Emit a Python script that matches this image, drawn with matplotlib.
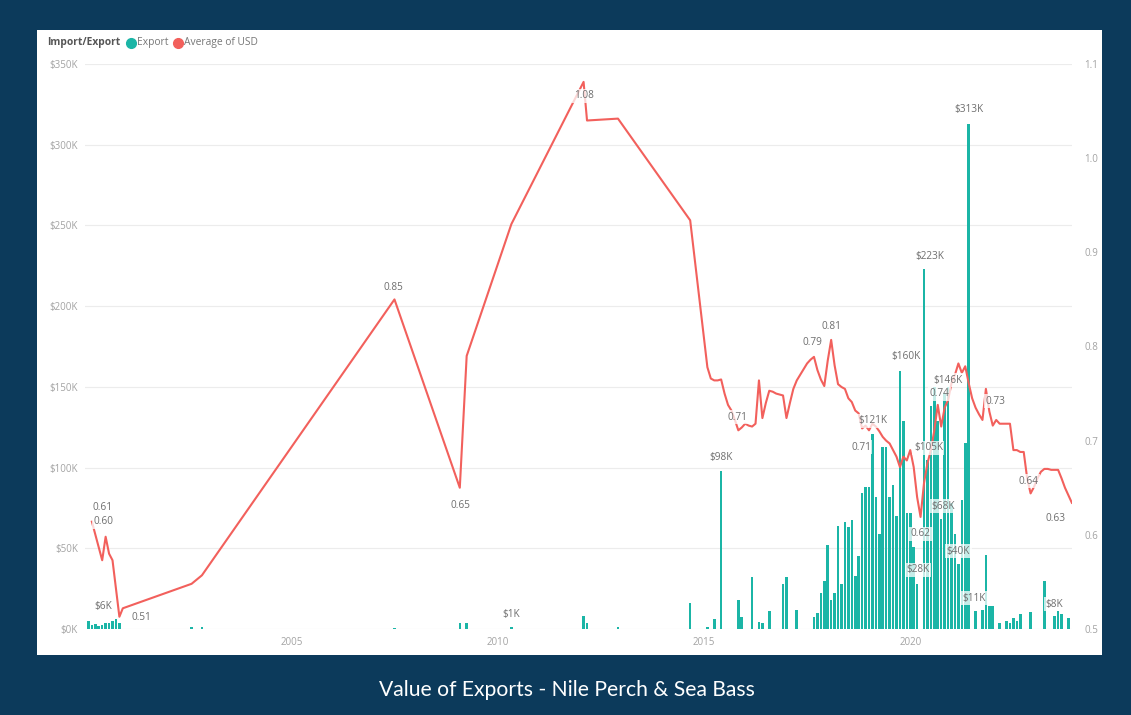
import matplotlib
matplotlib.use("Agg")
import matplotlib.pyplot as plt
from matplotlib.patches import Rectangle
from matplotlib.lines import Line2D

plt.rcParams['font.family'] = ['Open Sans', 'DejaVu Sans']

# monthly export value (USD)
export_months = [
    "2000-02", "2000-03", "2000-04", "2000-05", "2000-06", "2000-07", "2000-08", "2000-09", "2000-10", "2000-11",
    "2002-08", "2002-11", "2007-07", "2009-02", "2009-04", "2010-05", "2012-02", "2012-03", "2012-12",
    "2014-09", "2015-02", "2015-04", "2015-06", "2015-11", "2015-12",
    "2016-03", "2016-05", "2016-06", "2016-08", "2016-12", "2017-01", "2017-04",
    "2017-09", "2017-10", "2017-11", "2017-12",
    "2018-01", "2018-02", "2018-03", "2018-04", "2018-05", "2018-06",
    "2018-07", "2018-08", "2018-09", "2018-10", "2018-11", "2018-12",
    "2019-01", "2019-02", "2019-03", "2019-04", "2019-05", "2019-06",
    "2019-07", "2019-08", "2019-09", "2019-10", "2019-11", "2019-12",
    "2020-01", "2020-02", "2020-03", "2020-05", "2020-06",
    "2020-07", "2020-08", "2020-09", "2020-10", "2020-11", "2020-12",
    "2021-01", "2021-02", "2021-03", "2021-04", "2021-05", "2021-06",
    "2021-08", "2021-10", "2021-11", "2021-12",
    "2022-01", "2022-03", "2022-05", "2022-06", "2022-07", "2022-08", "2022-09", "2022-12",
    "2023-04", "2023-07", "2023-08", "2023-09", "2023-11",
]
export_values = [
    5000, 2500, 3000, 2000, 2500, 3500, 4000, 5000, 6000, 4000,
    1200, 1200, 800, 4000, 4000, 1000, 8000, 4000, 1500,
    16000, 1400, 6000, 98000, 18000, 7600,
    32000, 4500, 3500, 11000, 28000, 32000, 12000,
    7600, 10000, 22000, 30000,
    52000, 18000, 22000, 64000, 28000, 66000,
    63000, 67500, 33000, 45000, 84000, 88000,
    88000, 121000, 82000, 59000, 113000, 113000,
    82000, 89000, 70000, 160000, 129000, 72000,
    72000, 51000, 28000, 223000, 105000,
    138000, 150000, 129000, 68000, 146000, 150000,
    78000, 59000, 40000, 80000, 115000, 313000,
    11000, 12000, 46000, 14000,
    14000, 3500, 5000, 4000, 7000, 5000, 9000, 10700,
    30000, 8000, 11000, 9000, 7000,
]

# average USD rate per month
usd_months = [
    "2000-03", "2000-06", "2000-07", "2000-08", "2000-09", "2000-11", "2000-12",
    "2002-08", "2002-11", "2007-07", "2009-02", "2009-04", "2010-05",
    "2012-02", "2012-03", "2012-12", "2014-09",
    "2015-02", "2015-03", "2015-04", "2015-05", "2015-06", "2015-07", "2015-08",
    "2015-09", "2015-10", "2015-11", "2015-12",
    "2016-01", "2016-02", "2016-03", "2016-04", "2016-05", "2016-06",
    "2016-07", "2016-08", "2016-09", "2016-10", "2016-11", "2016-12",
    "2017-01", "2017-02", "2017-03", "2017-04", "2017-05", "2017-06",
    "2017-07", "2017-08", "2017-09", "2017-10", "2017-11", "2017-12",
    "2018-01", "2018-02", "2018-03", "2018-04", "2018-05", "2018-06",
    "2018-07", "2018-08", "2018-09", "2018-10", "2018-11", "2018-12",
    "2019-01", "2019-02", "2019-03", "2019-04", "2019-05", "2019-06",
    "2019-07", "2019-08", "2019-09", "2019-10", "2019-11", "2019-12",
    "2020-01", "2020-02", "2020-03", "2020-04", "2020-05", "2020-06",
    "2020-07", "2020-08", "2020-09", "2020-10", "2020-11", "2020-12",
    "2021-01", "2021-02", "2021-03", "2021-04", "2021-05", "2021-06",
    "2021-07", "2021-08", "2021-09", "2021-10", "2021-11", "2021-12",
    "2022-01", "2022-02", "2022-03", "2022-04", "2022-05", "2022-06",
    "2022-07", "2022-08", "2022-09", "2022-10", "2022-11", "2022-12",
    "2023-01", "2023-02", "2023-03", "2023-04", "2023-05", "2023-06",
    "2023-07", "2023-08", "2023-09", "2023-10", "2023-11", "2023-12",
]
usd_values = [
    0.614, 0.573, 0.598, 0.580, 0.573, 0.513, 0.522,
    0.548, 0.557, 0.850, 0.650, 0.790, 0.930,
    1.081, 1.040, 1.042, 0.934,
    0.778, 0.766, 0.764, 0.764, 0.765, 0.750, 0.738,
    0.732, 0.722, 0.711, 0.714,
    0.718, 0.716, 0.715, 0.718, 0.764, 0.724,
    0.740, 0.753, 0.752, 0.750, 0.749, 0.748,
    0.724, 0.740, 0.755, 0.764, 0.770, 0.776,
    0.782, 0.786, 0.789, 0.775, 0.765, 0.758,
    0.785, 0.807, 0.780, 0.760, 0.757, 0.755,
    0.745, 0.741, 0.732, 0.729, 0.713, 0.716,
    0.711, 0.718, 0.715, 0.710, 0.704, 0.700,
    0.697, 0.690, 0.683, 0.672, 0.683, 0.679,
    0.690, 0.672, 0.640, 0.619, 0.655, 0.676,
    0.690, 0.711, 0.738, 0.715, 0.735, 0.743,
    0.761, 0.770, 0.782, 0.772, 0.779, 0.761,
    0.745, 0.735, 0.728, 0.722, 0.755, 0.731,
    0.716, 0.722, 0.718, 0.718, 0.718, 0.718,
    0.690, 0.690, 0.688, 0.688, 0.660, 0.644,
    0.651, 0.660, 0.667, 0.670, 0.670, 0.669,
    0.669, 0.669, 0.660, 0.650, 0.642, 0.634,
]

# which points carry a data label, and where the label sits (pixel offset)
export_labels = {"2000-10": (-13, 13), "2010-05": (0, 13), "2015-06": (0, 13),
                 "2019-02": (0, 13), "2019-10": (6, 14), "2020-05": (6, 13),
                 "2020-06": (1, 12), "2020-11": (3, 13), "2020-10": (2, 13),
                 "2020-03": (1, 14), "2021-03": (0, 13), "2021-06": (0, 14),
                 "2021-08": (-2, 13), "2023-07": (0, 12)}
usd_labels = {"2000-03": (11, 14), "2000-07": (-2, 15), "2000-11": (22, -1),
              "2007-07": (-1, 12), "2009-02": (1, -18), "2012-02": (0, -14),
              "2015-11": (-1, 13), "2017-09": (-2, 14), "2018-02": (0, 13),
              "2019-01": (-8, -17), "2020-04": (0, -17), "2020-09": (2, 11),
              "2021-12": (6, 10), "2022-12": (-2, 12), "2023-12": (-16, -16)}


def to_year(s):
    y, m = s.split("-")
    return int(y) + (int(m) - 1) / 12


teal = "#1BB5A6"
red = "#F2605C"
navy = "#0C3A5B"
grey = "#A3A3A3"

fig = plt.figure(figsize=(11.31, 7.15), dpi=100, facecolor=navy)
W, H = 1131, 715
fig.patches.append(Rectangle((37 / W, 1 - 655 / H), (1102 - 37) / W, (655 - 30) / H,
                             transform=fig.transFigure, facecolor="white", edgecolor="none", zorder=-10))

ax = fig.add_axes([85 / W, 1 - 629 / H, (1072 - 85) / W, (629 - 64) / H])
ax.set_facecolor("none")
ax2 = ax.twinx()

ex_x = [to_year(m) for m in export_months]
ax.bar(ex_x, export_values, width=0.75 / 12, color=teal, linewidth=0, zorder=2)

us_x = [to_year(m) for m in usd_months]
ax2.plot(us_x, usd_values, color=red, linewidth=1.5, zorder=3)

ax.set_xlim(2000.0, 2023.92)
ax.set_ylim(0, 350000)
ax2.set_ylim(0.5, 1.1)

ax.set_yticks(range(0, 350001, 50000))
ax.set_yticklabels(["$%dK" % (v // 1000) for v in range(0, 350001, 50000)])
ax2.set_yticks([0.5, 0.6, 0.7, 0.8, 0.9, 1.0, 1.1])
ax2.set_yticklabels(["0.5", "0.6", "0.7", "0.8", "0.9", "1.0", "1.1"])
ax.set_xticks([2005, 2010, 2015, 2020])
ax.set_xticklabels(["2005", "2010", "2015", "2020"])

ax.grid(axis="y", color="#ECECEC", linewidth=0.8, zorder=0)
ax.set_axisbelow(True)
for a in (ax, ax2):
    for sp in a.spines.values():
        sp.set_visible(False)
    a.tick_params(length=0, colors=grey, labelsize=7)
ax.tick_params(axis="y", pad=5)
ax2.tick_params(axis="y", pad=9)
ax.tick_params(axis="x", pad=6)

box = dict(boxstyle="square,pad=0.15", facecolor="white", edgecolor="none", alpha=0.75)
for m, off in export_labels.items():
    i = export_months.index(m)
    v = export_values[i]
    ax2.annotate("$%dK" % round(v / 1000), xy=(ex_x[i], 0.5 + v / 350000 * 0.6),
                 xytext=off, textcoords="offset pixels", ha="center", va="center",
                 fontsize=7.2, color="#6E6E6E", bbox=box, zorder=5)
for m, off in usd_labels.items():
    i = usd_months.index(m)
    ax2.annotate("%.2f" % usd_values[i], xy=(us_x[i], usd_values[i]),
                 xytext=off, textcoords="offset pixels", ha="center", va="center",
                 fontsize=7.2, color="#6E6E6E", bbox=box, zorder=5)

# legend row
fig.text(47 / W, 1 - 43 / H, "Import/Export", fontsize=7.4, fontweight="bold",
         color="#555555", va="center", ha="left")
fig.add_artist(Line2D([131 / W], [1 - 43 / H], marker="o", markersize=7, color=teal,
                      linestyle="none", transform=fig.transFigure))
fig.text(137 / W, 1 - 43 / H, "Export", fontsize=7.4, color="#777777", va="center", ha="left")
fig.add_artist(Line2D([178 / W], [1 - 43 / H], marker="o", markersize=7, color=red,
                      linestyle="none", transform=fig.transFigure))
fig.text(184 / W, 1 - 43 / H, "Average of USD", fontsize=7.4, color="#777777", va="center", ha="left")

fig.text(567 / W, 1 - 690 / H, "Value of Exports - Nile Perch & Sea Bass", fontsize=15.2,
         color="white", ha="center", va="center", family=["Lato", "DejaVu Sans"])

fig.savefig("out.png", dpi=100, facecolor=navy)
